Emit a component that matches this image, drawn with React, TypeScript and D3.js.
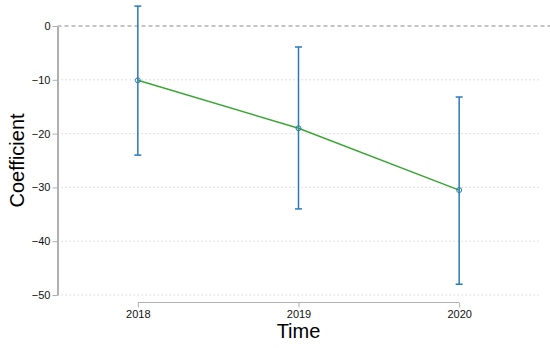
import { useEffect, useRef } from "react";
import * as d3 from "d3";

// coefficient estimates with 95% CI, by year
const years = [2018, 2019, 2020];
const coef = [-10.1, -19.0, -30.5];
const ciLow = [-24.0, -34.0, -48.0];
const ciHigh = [3.7, -3.9, -13.2];
const yTicks = [0, -10, -20, -30, -40, -50];

const W = 550;
const H = 348;
const BLUE = "#2a7ab9";
const GREEN = "#3aa635";
const AXIS = "#b0b0b0";
const FONT = "Liberation Sans, Arial, Helvetica, sans-serif";

export default function App() {
  const svgRef = useRef<SVGSVGElement>(null);

  useEffect(() => {
    const svg = d3.select(svgRef.current);
    svg.selectAll("*").remove();

    const x = d3.scaleLinear().domain([2017.5, 2020.5]).range([57.5, 539.5]);
    const y = d3.scaleLinear().domain([0, -50]).range([26, 295]);

    // grid lines
    svg.append("g")
      .selectAll("line")
      .data(yTicks.filter((t) => t !== 0))
      .join("line")
      .attr("x1", x(2017.5))
      .attr("x2", x(2020.5))
      .attr("y1", (d) => y(d))
      .attr("y2", (d) => y(d))
      .attr("stroke", "#d8d8d8")
      .attr("stroke-width", 1)
      .attr("stroke-dasharray", "1.5,2.5");

    // zero reference line
    svg.append("line")
      .attr("x1", x(2017.5))
      .attr("x2", W)
      .attr("y1", y(0))
      .attr("y2", y(0))
      .attr("stroke", "#8a8a8a")
      .attr("stroke-width", 1)
      .attr("stroke-dasharray", "4,3");

    // y axis
    const yAxis = svg.append("g")
      .attr("transform", `translate(${x(2017.5)},0)`)
      .call(d3.axisLeft(y).tickValues(yTicks).tickSize(5).tickSizeOuter(0).tickFormat((d) => d3.format("d")(+d).replace("-", "\u2212")));
    yAxis.select(".domain").attr("stroke", AXIS).attr("stroke-width", 2);
    yAxis.selectAll(".tick line").attr("stroke", AXIS);
    yAxis.selectAll(".tick text")
      .attr("font-family", FONT)
      .attr("font-size", 11)
      .attr("fill", "#111")
      .attr("x", -7);

    // x axis
    const xAxis = svg.append("g")
      .attr("transform", `translate(0,302.5)`)
      .call(d3.axisBottom(x).tickValues(years).tickSize(5).tickSizeOuter(0).tickFormat(d3.format("d")));
    xAxis.select(".domain").attr("d", `M${x(2018)},0H${x(2020)}`).attr("stroke", AXIS);
    xAxis.selectAll(".tick line").attr("stroke", AXIS);
    xAxis.selectAll(".tick text")
      .attr("font-family", FONT)
      .attr("font-size", 11)
      .attr("fill", "#111")
      .attr("y", 8);

    // error bars
    const bars = svg.append("g");
    years.forEach((yr, i) => {
      const cx = x(yr);
      bars.append("line")
        .attr("x1", cx).attr("x2", cx)
        .attr("y1", y(ciHigh[i])).attr("y2", y(ciLow[i]))
        .attr("stroke", BLUE).attr("stroke-width", 1.5);
      [ciHigh[i], ciLow[i]].forEach((v) => {
        bars.append("line")
          .attr("x1", cx - 3.5).attr("x2", cx + 3.5)
          .attr("y1", y(v)).attr("y2", y(v))
          .attr("stroke", BLUE).attr("stroke-width", 1.5);
      });
    });

    // connecting line
    const line = d3.line<number>()
      .x((_, i) => x(years[i]))
      .y((d) => y(d));
    svg.append("path")
      .datum(coef)
      .attr("fill", "none")
      .attr("stroke", GREEN)
      .attr("stroke-width", 1.5)
      .attr("d", line);

    // point markers
    svg.append("g")
      .selectAll("circle")
      .data(coef)
      .join("circle")
      .attr("cx", (_, i) => x(years[i]))
      .attr("cy", (d) => y(d))
      .attr("r", 2.5)
      .attr("fill", "none")
      .attr("stroke", BLUE)
      .attr("stroke-width", 1);

    // axis titles
    svg.append("text")
      .attr("transform", `translate(24,${y(-25)}) rotate(-90)`)
      .attr("text-anchor", "middle")
      .attr("font-family", FONT)
      .attr("font-size", 20)
      .attr("fill", "#000")
      .text("Coefficient");

    svg.append("text")
      .attr("x", x(2019))
      .attr("y", 338)
      .attr("text-anchor", "middle")
      .attr("font-family", FONT)
      .attr("font-size", 20)
      .attr("fill", "#000")
      .text("Time");
  }, []);

  return (
    <div style={{ position: "absolute", left: 0, top: 0, width: W, height: H, background: "#fff" }}>
      <svg ref={svgRef} width={W} height={H} />
    </div>
  );
}
